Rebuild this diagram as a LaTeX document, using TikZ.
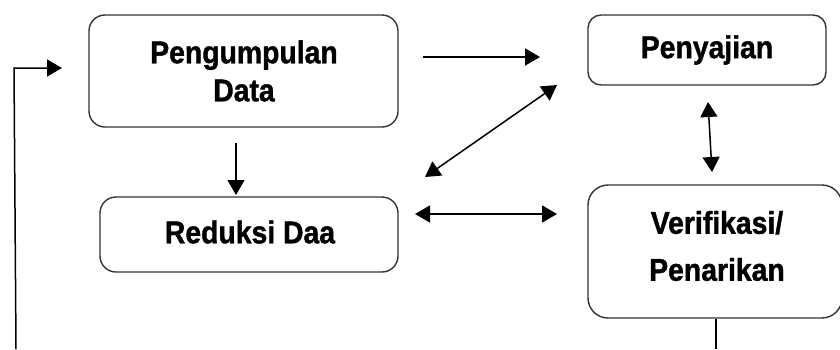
\documentclass[tikz,border=0pt]{standalone}
\usepackage{fontspec}
\setmainfont{Liberation Sans}[FakeStretch=0.9, BoldFeatures={FakeBold=1.2}]
\usetikzlibrary{arrows.meta}
\tikzset{
  box/.style={draw=black!80, line width=1.4pt, rounded corners=16pt, inner sep=0pt},
  lbl/.style={font=\bfseries\fontsize{31.5}{39}\selectfont, align=center, inner sep=0pt},
  conn/.style={line width=1.5pt, -{Triangle[length=15pt,width=17pt]}},
  bconn/.style={line width=1.5pt, {Triangle[length=15pt,width=17pt]}-{Triangle[length=15pt,width=17pt]}},
  plain/.style={line width=1.5pt}
}
\begin{document}
\begin{tikzpicture}[x=1pt,y=-1pt]
\useasboundingbox (0,0) rectangle (840,349);
% boxes
\node[box, minimum width=309pt, minimum height=112pt] (b1) at (243.5,71) {};
\node[box, minimum width=298pt, minimum height=75pt] (b2) at (249,234.5) {};
\node[box, minimum width=238pt, minimum height=70pt, rounded corners=13pt] (b3) at (707,50) {};
\node[box, minimum width=254pt, minimum height=133pt, rounded corners=20pt] (b4) at (715,251.5) {};
% labels
\node[lbl] (t1) at (244,71) {Pengumpulan\\[-1pt]Data};
\node[lbl] (t2) at (250,232) {Reduksi Daa};
\node[lbl] (t3) at (707,50) {Penyajian};
\node[lbl] (t4) at (717,246) {Verifikasi/\\[8pt]Penarikan};
% connector end points
\coordinate (f0) at (16,349);
\coordinate (f1) at (14,68);
\coordinate (f2) at (62,68);
\coordinate (d1) at (236,143);
\coordinate (d2) at (236,195);
\coordinate (h1) at (423,57);
\coordinate (h2) at (540,57);
\coordinate (g1) at (425,177);
\coordinate (g2) at (557,85);
\coordinate (k1) at (415,214);
\coordinate (k2) at (557,214);
\coordinate (v1) at (708,102);
\coordinate (v2) at (712,172);
\coordinate (e1) at (716,349);
% connectors
\draw[conn] (f0) -- (f1) -- (f2);
\draw[conn] (d1) -- (d2);
\draw[conn] (h1) -- (h2);
\draw[bconn] (g1) -- (g2);
\draw[bconn] (k1) -- (k2);
\draw[bconn] (v1) -- (v2);
\draw[plain] (b4.south -| e1) -- (e1);
\end{tikzpicture}
\end{document}
